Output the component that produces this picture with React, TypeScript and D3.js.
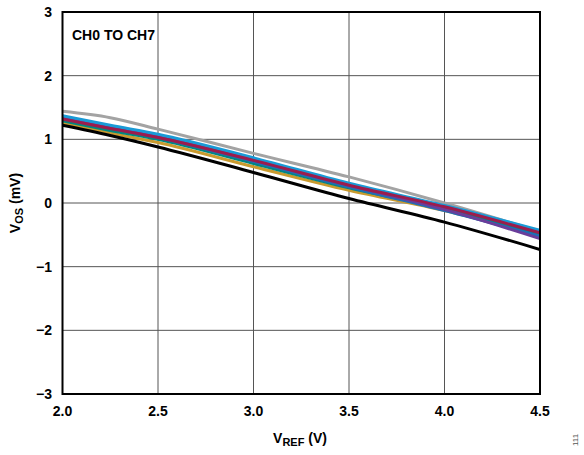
import React from "react";
import * as d3 from "d3";

// Reference voltage sweep points (V)
const vref = [2.0, 2.25, 2.5, 3.0, 3.5, 4.0, 4.5];

// Offset voltage per channel (mV) at each vref point
const chGray = [1.44, 1.34, 1.16, 0.78, 0.41, 0.0, -0.45];
const chLightBlue = [1.37, 1.22, 1.08, 0.71, 0.31, -0.04, -0.43];
const chPurple = [1.35, 1.20, 1.06, 0.68, 0.28, -0.10, -0.56];
const chMaroon = [1.32, 1.17, 1.03, 0.67, 0.28, -0.06, -0.47];
const chBlue = [1.33, 1.18, 1.03, 0.65, 0.25, -0.12, -0.52];
const chTeal = [1.29, 1.14, 1.00, 0.62, 0.24, -0.09, -0.50];
const chGold = [1.26, 1.10, 0.95, 0.57, 0.20, -0.12, -0.51];
const chBlack = [1.22, 1.06, 0.88, 0.48, 0.07, -0.30, -0.73];

const xTicks = [2.0, 2.5, 3.0, 3.5, 4.0, 4.5];
const yTicks = [-3, -2, -1, 0, 1, 2, 3];

const series = [
  { values: chGray, color: "#a3a3a3" },
  { values: chGold, color: "#c99a2e" },
  { values: chTeal, color: "#00877f" },
  { values: chBlue, color: "#1f6db5" },
  { values: chPurple, color: "#6a3d9a" },
  { values: chLightBlue, color: "#1a9ad6" },
  { values: chMaroon, color: "#9c1c4c" },
  { values: chBlack, color: "#000000" },
];

const W = 584;
const H = 455;
const left = 62.5;
const right = 540;
const top = 12;
const bottom = 394;

export default function App() {
  const x = d3.scaleLinear().domain([2.0, 4.5]).range([left, right]);
  const y = d3.scaleLinear().domain([-3, 3]).range([bottom, top]);
  const line = d3
    .line<number>()
    .x((_, i) => x(vref[i]))
    .y((d) => y(d))
    .curve(d3.curveMonotoneX);

  const font = "'Liberation Sans', Arial, Helvetica, sans-serif";

  return (
    <svg
      width={W}
      height={H}
      style={{ position: "absolute", left: 0, top: 0 }}
      fontFamily={font}
    >
      <rect width={W} height={H} fill="#fff" />
      <defs>
        <clipPath id="plot">
          <rect x={left} y={top} width={right - left} height={bottom - top} />
        </clipPath>
      </defs>
      {/* grid */}
      {xTicks.slice(1, -1).map((t) => (
        <line key={"gx" + t} x1={x(t)} x2={x(t)} y1={top} y2={bottom} stroke="#555" strokeWidth={1} />
      ))}
      {yTicks.slice(1, -1).map((t) => (
        <line key={"gy" + t} x1={left} x2={right} y1={y(t)} y2={y(t)} stroke="#555" strokeWidth={1} />
      ))}
      {/* channel curves */}
      <g clipPath="url(#plot)">
        {series.map((s, i) => (
          <path key={i} d={line(s.values) ?? ""} fill="none" stroke={s.color} strokeWidth={3} />
        ))}
      </g>
      {/* frame */}
      <rect x={left} y={top} width={right - left} height={bottom - top} fill="none" stroke="#000" strokeWidth={2} />
      {/* tick labels */}
      {xTicks.map((t) => (
        <text key={"tx" + t} x={x(t)} y={416} textAnchor="middle" fontSize={14} fontWeight="bold">
          {t.toFixed(1)}
        </text>
      ))}
      {yTicks.map((t) => (
        <text key={"ty" + t} x={52} y={y(t) + 5} textAnchor="end" fontSize={14} fontWeight="bold">
          {t < 0 ? "\u2212" + Math.abs(t) : String(t)}
        </text>
      ))}
      <text x={72} y={40} fontSize={14} fontWeight="bold">CH0 TO CH7</text>
      {/* axis titles */}
      <text x={300} y={443} textAnchor="middle" fontSize={14} fontWeight="bold">
        V<tspan fontSize={11} dy={3}>REF</tspan>
        <tspan dy={-3}> (V)</tspan>
      </text>
      <text transform={`translate(20,${(top + bottom) / 2}) rotate(-90)`} textAnchor="middle" fontSize={14} fontWeight="bold">
        V<tspan fontSize={11} dy={3}>OS</tspan>
        <tspan dy={-3}> (mV)</tspan>
      </text>
      <text transform="translate(578,440) rotate(-90)" textAnchor="middle" fontSize={8} fill="#555">111</text>
    </svg>
  );
}
